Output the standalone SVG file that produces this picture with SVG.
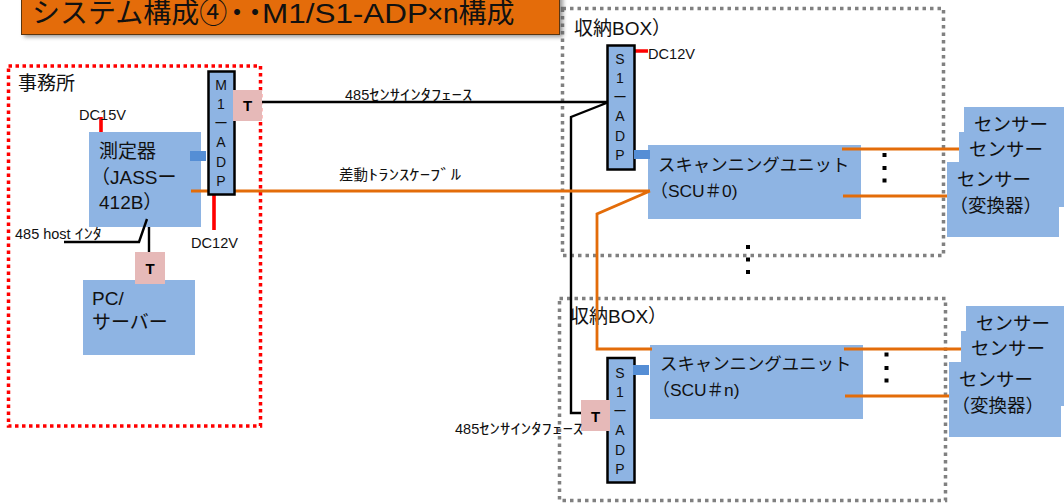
<svg xmlns="http://www.w3.org/2000/svg" width="1064" height="504" viewBox="0 0 1064 504">
<style>
text{font-family:"Liberation Sans","Noto Sans CJK JP",sans-serif;fill:#111}
.b{fill:#8eb4e3}
.t{fill:#e6b9b8}
.tt{font-size:15px;font-weight:bold;text-anchor:middle;fill:#000}
.adp{fill:#8eb4e3;stroke:#000;stroke-width:2.5}
.al{font-size:14px;text-anchor:middle}
.h{font-size:19px}
.n{font-size:19px}
.u{font-size:17.400px}
.se{font-size:18.500px}
.s{font-size:14.500px}
.port{fill:#558ed5}
.k{fill:none;stroke:#000;stroke-width:2.400}
.o{fill:none;stroke:#e36c09;stroke-width:2.800}
.r{fill:none;stroke:#f00;stroke-width:3.600}
.d{fill:#000}
.g{fill:none;stroke:#808080;stroke-width:3.500;stroke-dasharray:3.500 4}
</style>
<defs>
<filter id="sh" x="-5%" y="-30%" width="110%" height="170%"><feGaussianBlur stdDeviation="2"/></filter>
</defs>
<g id="box-upper"><rect class="g" x="562.500" y="8.500" width="381" height="247"/><text class="h" x="574" y="35">収納BOX）</text></g>
<g id="box-lower"><rect class="g" x="559.500" y="298.500" width="386" height="202"/><text class="h" x="570" y="323">収納BOX）</text></g>
<g id="office"><rect x="8.500" y="66" width="252" height="360" fill="none" stroke="#f00" stroke-width="3.500" stroke-dasharray="3.500 3.500"/><text class="h" x="18" y="90">事務所</text></g>
<g id="meter"><rect class="b" x="89" y="132" width="112" height="95"/><text class="n" x="99" y="158">測定器</text><text class="n" x="91" y="184">（JASSー</text><text class="n" x="99" y="209">412B）</text></g>
<g id="pc"><rect class="b" x="83" y="280" width="112" height="75"/><text class="n" x="92" y="305">PC/</text><text class="n" x="92" y="329">サーバー</text></g>
<g id="scu0"><rect class="b" x="648" y="145" width="213" height="74"/><text class="u" x="658" y="171">スキャンニングユニット</text><text class="u" x="650.500" y="197">（SCU＃0)</text></g>
<g id="scun"><rect class="b" x="650" y="345" width="213" height="74"/><text class="u" x="660" y="370">スキャンニングユニット</text><text class="u" x="652.500" y="396">（SCU＃n)</text></g>
<g id="connectors">
<path class="k" d="M262 102H609M609 102L571 117V413H582"/>
<path class="k" d="M64 242H139L147 219M149 227V253"/>
<path class="o" d="M191 191H650M650 191L597 214V349H652"/>
<path class="o" d="M842 149H960M843 196H947M844 349H961M845 396H949"/>
<path class="r" d="M101 117V132M214 185V230M634 51H648"/>
</g>
<g id="m1-adp"><rect class="adp" x="208.500" y="71.500" width="26" height="123"/><text class="al" x="221" y="90">M</text><text class="al" x="221" y="109">1</text><text class="al" x="221" y="128">ー</text><text class="al" x="221" y="147">A</text><text class="al" x="221" y="167">D</text><text class="al" x="221" y="186">P</text><rect class="port" x="190" y="151" width="16" height="10"/></g>
<g id="s1-adp-0"><rect class="adp" x="607.500" y="45.500" width="27" height="124"/><text class="al" x="620" y="64">S</text><text class="al" x="620" y="83">1</text><text class="al" x="620" y="102">ー</text><text class="al" x="620" y="121">A</text><text class="al" x="620" y="141">D</text><text class="al" x="620" y="160">P</text><rect class="port" x="634" y="150" width="16" height="9"/></g>
<g id="s1-adp-n"><rect class="adp" x="607.500" y="358" width="27" height="124.500"/><text class="al" x="620" y="378">S</text><text class="al" x="620" y="397">1</text><text class="al" x="620" y="416">ー</text><text class="al" x="620" y="435">A</text><text class="al" x="620" y="455">D</text><text class="al" x="620" y="474">P</text><rect class="port" x="633" y="365" width="16" height="10"/></g>
<g id="t1"><rect class="t" x="233" y="90" width="29" height="31"/><text class="tt" x="247.500" y="111">T</text></g>
<g id="t2"><rect class="t" x="135" y="252" width="30" height="32"/><text class="tt" x="150" y="274">T</text></g>
<g id="t3"><rect class="t" x="581" y="400" width="29" height="31"/><text class="tt" x="595.500" y="422">T</text></g>
<g id="sensors-0"><rect class="b" x="964" y="107" width="100" height="100"/><text class="se" x="974" y="131">センサー</text><rect class="b" x="959" y="132" width="105" height="75"/><text class="se" x="969" y="156">センサー</text><rect class="b" x="947" y="162" width="112" height="75"/><text class="se" x="957" y="186">センサー</text><text class="se" x="949.500" y="212">（変換器）</text></g>
<g id="sensors-n"><rect class="b" x="966" y="306" width="98" height="100"/><text class="se" x="976" y="330">センサー</text><rect class="b" x="961" y="331" width="103" height="75"/><text class="se" x="971" y="355">センサー</text><rect class="b" x="949" y="362" width="112" height="75"/><text class="se" x="959" y="386">センサー</text><text class="se" x="951.500" y="412">（変換器）</text></g>
<g id="dots"><rect class="d" x="882.500" y="153" width="4" height="4"/><rect class="d" x="882.500" y="166" width="4" height="4"/><rect class="d" x="882.500" y="178.500" width="4" height="4"/><rect class="d" x="746" y="245" width="4" height="4"/><rect class="d" x="746" y="257.500" width="4" height="4"/><rect class="d" x="746" y="270" width="4" height="4"/><rect class="d" x="884.500" y="352.500" width="4" height="4"/><rect class="d" x="884.500" y="366" width="4" height="4"/><rect class="d" x="884.500" y="378.500" width="4" height="4"/></g>
<g id="labels">
<text class="s" x="79" y="120" textLength="47" lengthAdjust="spacingAndGlyphs">DC15V</text>
<text class="s" x="191" y="248" textLength="47" lengthAdjust="spacingAndGlyphs">DC12V</text>
<text class="s" x="648" y="59" textLength="47" lengthAdjust="spacingAndGlyphs">DC12V</text>
<text class="s" x="345" y="100">485<tspan textLength="103" lengthAdjust="spacingAndGlyphs">ｾﾝｻｲﾝﾀﾌｪｰｽ</tspan></text>
<text class="s" x="339" y="180">差動<tspan textLength="93" lengthAdjust="spacingAndGlyphs">ﾄﾗﾝｽｹｰﾌﾞﾙ</tspan></text>
<text class="s" x="15" y="239">485 host <tspan textLength="27" lengthAdjust="spacingAndGlyphs">ｲﾝﾀ</tspan></text>
<text class="s" x="455" y="434">485<tspan textLength="104" lengthAdjust="spacingAndGlyphs">ｾﾝｻｲﾝﾀﾌｪｰｽ</tspan></text>
</g>
<g id="title"><rect x="24" y="-10" width="539" height="47" fill="#555" opacity=".6" filter="url(#sh)"/><rect x="21.500" y="-10" width="538" height="44.500" fill="#e46c0a" stroke="#5a3510" stroke-width="1"/><text x="32" y="23" font-size="28" fill="#000">システム構成④<tspan x="223 241">・・</tspan><tspan x="262" textLength="166" lengthAdjust="spacingAndGlyphs">M1/S1-ADP</tspan><tspan x="427">×</tspan><tspan x="443">n構成</tspan></text></g>
</svg>
